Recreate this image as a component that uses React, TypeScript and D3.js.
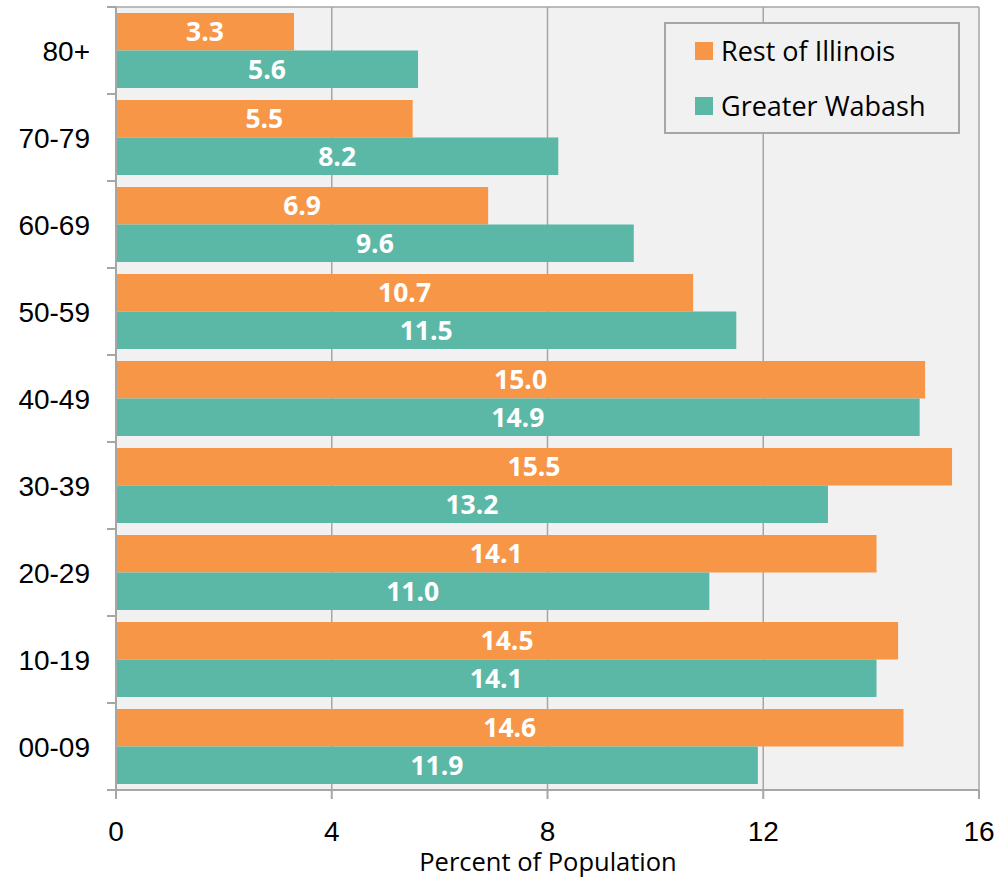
import React from "react";
import { scaleBand, scaleLinear } from "d3";

const ageGroups = ["80+", "70-79", "60-69", "50-59", "40-49", "30-39", "20-29", "10-19", "00-09"];
const restOfIllinois = [3.3, 5.5, 6.9, 10.7, 15.0, 15.5, 14.1, 14.5, 14.6];
const greaterWabash = [5.6, 8.2, 9.6, 11.5, 14.9, 13.2, 11.0, 14.1, 11.9];
const seriesNames = ["Rest of Illinois", "Greater Wabash"];
const xTicks = [0, 4, 8, 12, 16];

const COLORS = ["#f79646", "#5bb8a6"];
const GRID = "#a6a6a6";

export default function App() {
  const W = 1002;
  const H = 882;
  const left = 116;
  const right = 979;
  const top = 7;
  const bottom = 790;

  const xScale = scaleLinear().domain([0, 16]).range([left, right]);
  const yScale = scaleBand<string>().domain(ageGroups).range([top, bottom]);
  const pad = 6;
  const barH = (yScale.bandwidth() - 2 * pad) / 2;
  const series = [restOfIllinois, greaterWabash];

  return (
    <svg
      width={W}
      height={H}
      style={{ position: "absolute", left: 0, top: 0, background: "#fff" }}
    >
      <rect x={left} y={top} width={right - left} height={bottom - top} fill="#f1f1f1" />
      {xTicks.slice(1).map(t => (
        <line key={t} x1={xScale(t)} x2={xScale(t)} y1={top} y2={bottom} stroke={GRID} strokeWidth={1.5} />
      ))}
      <line x1={left} x2={right} y1={top} y2={top} stroke={GRID} strokeWidth={1.5} />

      {ageGroups.map((g, i) => (
        <g key={g}>
          {series.map((s, k) => {
            const y0 = yScale(g)! + pad + k * barH;
            const x1 = xScale(s[i]);
            return (
              <g key={k}>
                <rect x={left} y={y0} width={x1 - left} height={barH} fill={COLORS[k]} />
                <text
                  x={(left + x1) / 2}
                  y={y0 + barH / 2}
                  dy="0.36em"
                  textAnchor="middle"
                  fill="#fff"
                  fontFamily="'Open Sans', sans-serif"
                  fontWeight="bold"
                  fontSize={26.5}
                >
                  {s[i].toFixed(1)}
                </text>
              </g>
            );
          })}
        </g>
      ))}

      {/* y axis */}
      <line x1={left} x2={left} y1={top} y2={bottom + 8} stroke={GRID} strokeWidth={2} />
      {ageGroups.map((g, i) => (
        <line key={"t" + i} x1={107} x2={left} y1={yScale(g)!} y2={yScale(g)!} stroke={GRID} strokeWidth={2} />
      ))}
      <line x1={107} x2={left} y1={bottom} y2={bottom} stroke={GRID} strokeWidth={2} />
      {ageGroups.map(g => (
        <text
          key={"l" + g}
          x={90}
          y={yScale(g)! + yScale.bandwidth() / 2}
          dy="0.36em"
          textAnchor="end"
          fontFamily="'Liberation Sans', Arial, sans-serif"
          fontSize={28}
          fill="#000"
        >
          {g}
        </text>
      ))}

      {/* x axis */}
      <line x1={left} x2={right} y1={bottom} y2={bottom} stroke={GRID} strokeWidth={2} />
      {xTicks.map(t => (
        <g key={"x" + t}>
          <line x1={xScale(t)} x2={xScale(t)} y1={bottom} y2={bottom + 9} stroke={GRID} strokeWidth={2} />
          <text
            x={xScale(t)}
            y={841}
            textAnchor="middle"
            fontFamily="'Liberation Sans', Arial, sans-serif"
            fontSize={28}
            fill="#000"
          >
            {t}
          </text>
        </g>
      ))}
      <text
        x={548}
        y={871}
        textAnchor="middle"
        fontFamily="'Open Sans', sans-serif"
        fontSize={25.5}
        fill="#000"
      >
        Percent of Population
      </text>

      {/* legend */}
      <rect x={665} y={23} width={294} height={110} fill="#f1f1f1" stroke={GRID} strokeWidth={2} />
      {seriesNames.map((n, k) => (
        <g key={n}>
          <rect x={695} y={42 + k * 55} width={18} height={18} fill={COLORS[k]} />
          <text
            x={721}
            y={51 + k * 55}
            dy="0.36em"
            fontFamily="'Open Sans', sans-serif"
            fontSize={27}
            fill="#000"
          >
            {n}
          </text>
        </g>
      ))}
    </svg>
  );
}
